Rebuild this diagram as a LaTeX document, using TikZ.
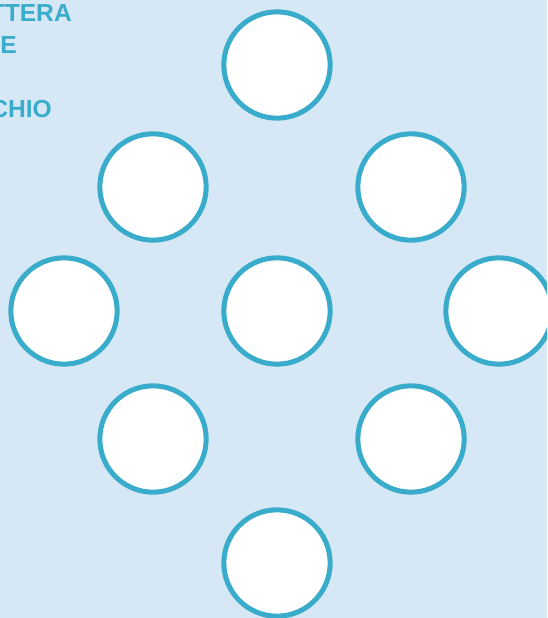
\documentclass[tikz,border=0pt]{standalone}
\usepackage{fontspec}
\setmainfont{Liberation Sans}
\usetikzlibrary{positioning}
\definecolor{paleBlue}{RGB}{214,232,245}
\definecolor{ringBlue}{RGB}{56,172,202}

\begin{document}
\begin{tikzpicture}[
  x=0.03cm, y=-0.03cm,
  ring/.style={circle, draw=ringBlue, fill=white, line width=0.15cm, minimum size=3.19cm, inner sep=0pt},
  caption/.style={anchor=base east, text=ringBlue, font=\fontsize{21}{25}\selectfont\bfseries, inner sep=0pt},
]
% Page: 547 x 618 px, 1px = 0.03cm
\useasboundingbox (0,0) rectangle (547,618);
\clip (0,0) rectangle (547,618);
\fill[paleBlue] (0,0) rectangle (547,618);

% Cut-off heading, top left
\node[caption] (lineA) at (72,22){TTERA};
\node[caption] (lineB) at (17,54){E};
\node[caption] (lineD) at (52,117){CHIO};

% Rings, diamond layout
\node[ring] (top)    at (277,65) {};
\node[ring] (upL)    at (153,187){};
\node[ring] (upR)    at (411,187){};
\node[ring] (midL)   at (64,311) {};
\node[ring] (centre) at (277,311){};
\node[ring] (midR)   at (499,311){};
\node[ring] (lowL)   at (153,439){};
\node[ring] (lowR)   at (411,439){};
\node[ring] (bottom) at (277,563){};

\end{tikzpicture}
\end{document}
